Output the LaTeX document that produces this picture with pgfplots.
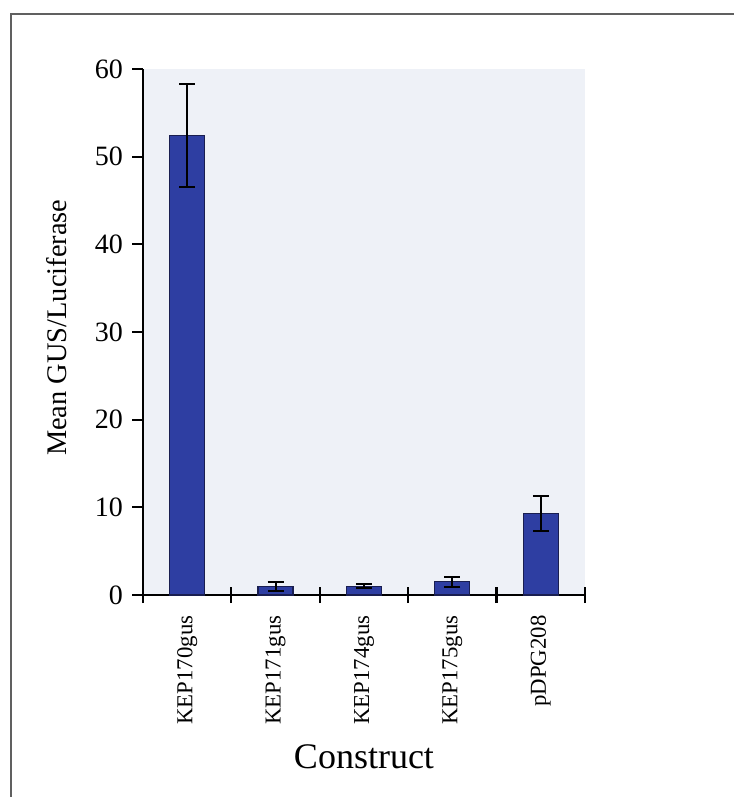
\documentclass[border=0pt]{standalone}
\usepackage{pgfplots}
\pgfplotsset{compat=1.18}
\usetikzlibrary{calc}
\usepackage{fontspec}
\setmainfont{Liberation Serif}
\definecolor{barblue}{RGB}{46,62,162}
\definecolor{baredge}{RGB}{25,30,80}
\definecolor{plotbg}{RGB}{238,241,247}
\begin{document}
\begin{tikzpicture}
\begin{axis}[
  scale only axis, width=221pt, height=263pt,
  xmin=-0.5, xmax=4.5, ymin=0, ymax=60,
  axis x line*=bottom, axis y line*=left,
  axis line style={line width=0.9pt, black},
  axis background/.style={fill=plotbg},
  ytick={0,10,...,60},
  xtick={0,1,2,3,4},
  xticklabels={KEP170gus,KEP171gus,KEP174gus,KEP175gus,pDPG208},
  minor xtick={-0.5,0.5,1.5,2.5,3.5,4.5},
  major x tick style={draw=none},
  every minor tick/.append style={line width=1.1pt, draw=black, black},
  minor x tick style={line width=1.1pt, draw=black},
  minor tick length=8pt,
  major y tick style={line width=0.9pt, black},
  major tick length=5.5pt,
  ytick align=outside, xtick align=center,
  /pgf/number format/assume math mode=true,
  yticklabel style={font=\fontsize{14}{16}\selectfont, xshift=-1pt},
  xticklabel style={rotate=90, anchor=east, font=\fontsize{11.4}{13}\selectfont, xshift=-4pt},
  ylabel={Mean GUS/Luciferase},
  ylabel style={at={(axis description cs:-0.196,0.508)}, anchor=center, rotate=0, font=\fontsize{14.2}{16}\selectfont},
  xlabel={Construct},
  xlabel style={at={(axis description cs:0.5,-0.308)}, anchor=center, font=\fontsize{18}{20}\selectfont},
  clip=false,
]
\addplot[ybar, bar width=17.5pt, fill=barblue, draw=baredge, line width=0.6pt,
  error bars/.cd, y dir=both, y explicit,
  error bar style={line width=1pt, black}, error mark options={rotate=90, mark size=4pt, line width=1pt, black}]
  coordinates {
  (0,52.4) +- (0,5.9)
  (1,1.0) +- (0,0.5)
  (2,1.0) +- (0,0.25)
  (3,1.5) +- (0,0.6)
  (4,9.3) +- (0,2.0)
  };
\coordinate (ll) at (rel axis cs:0,0);
\end{axis}
\coordinate (pic) at ($(ll)+(-71.5pt,-101pt)$);
\draw[gray!75!black, line width=0.8pt] ($(pic)+(5.5pt,-2pt)$) -- ($(pic)+(5.5pt,391.5pt)$) -- ($(pic)+(368pt,391.5pt)$);
\pgfresetboundingbox
\path[use as bounding box] (pic) rectangle ($(pic)+(366.5pt,398.5pt)$);
\end{tikzpicture}
\end{document}
